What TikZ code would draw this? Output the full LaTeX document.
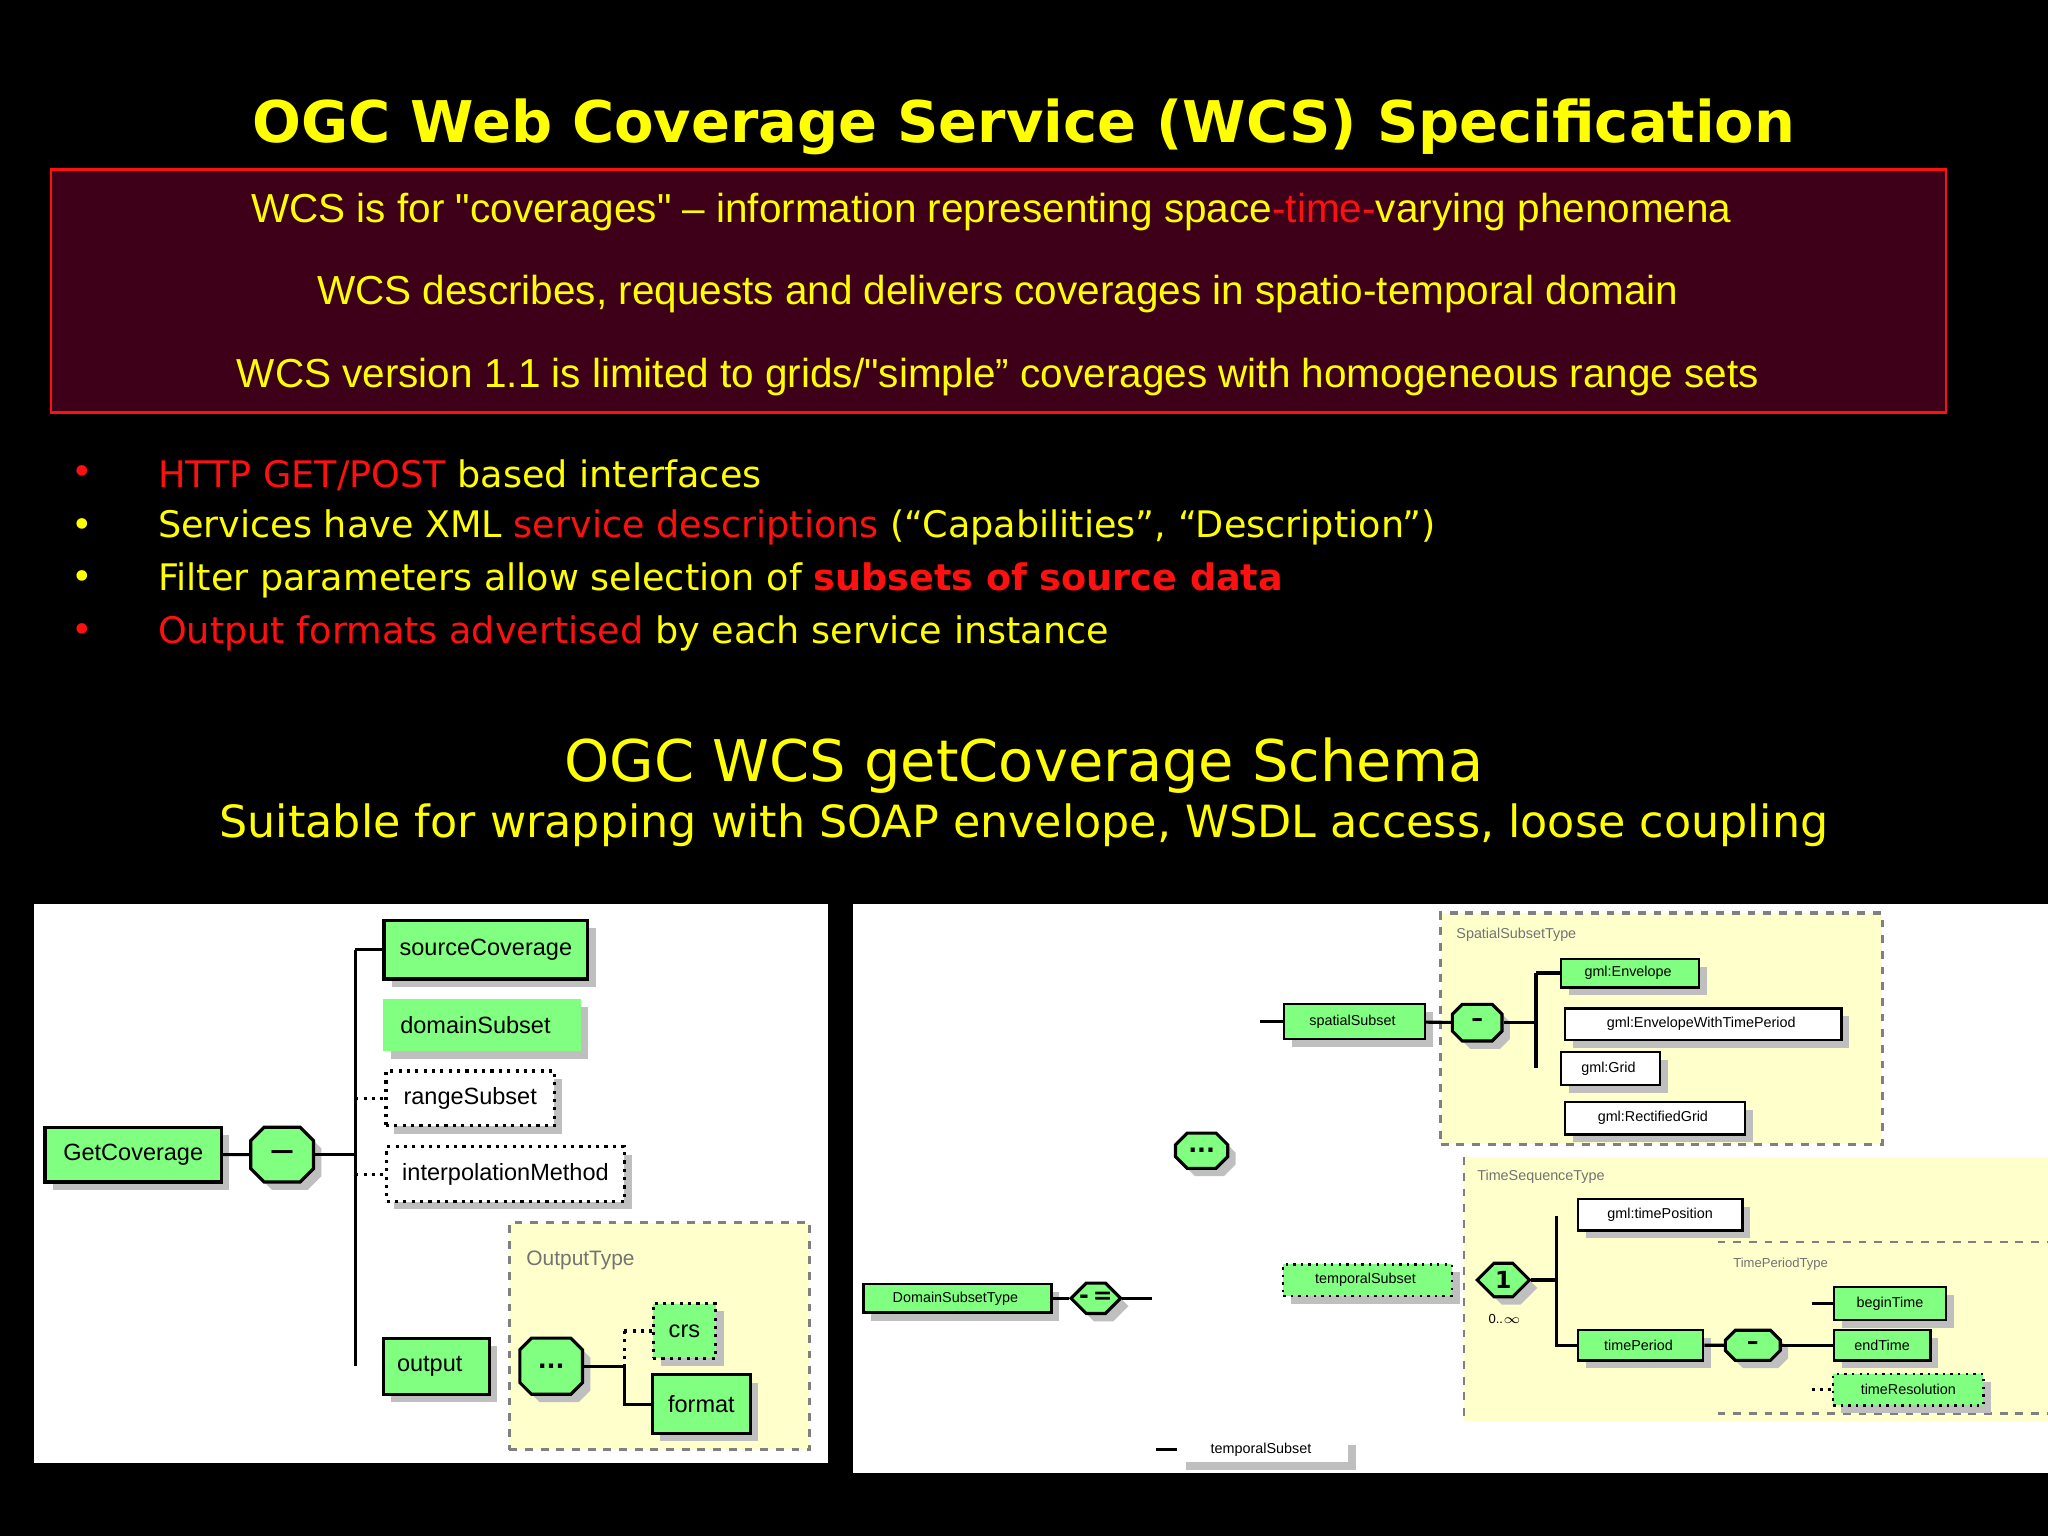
\documentclass[tikz,border=0pt]{standalone}
\usepackage{fontspec}
\setmainfont{DejaVu Sans}
\newfontfamily\arialf{Liberation Sans}
\usetikzlibrary{shapes.misc,shadows}
\definecolor{ye}{HTML}{FFFF00}
\definecolor{rd}{HTML}{FF1010}
\definecolor{mar}{HTML}{3D0018}
\definecolor{gn}{HTML}{80FF80}
\definecolor{py}{HTML}{FFFFCC}
\tikzset{
 wh/.style 2 args={minimum width=#1*0.5pt,minimum height=#2*0.5pt},
 sh/.style={drop shadow={shadow xshift=3pt,shadow yshift=-3pt,fill=black!25,opacity=1}},
 gbox/.style={sh,fill=gn,draw=black,line width=1.2pt,inner sep=1pt,font=\arialf\fontsize{9}{10}\selectfont},
 wbox/.style={sh,fill=white,draw=black,line width=1.2pt,inner sep=1pt,font=\arialf\fontsize{9}{10}\selectfont},
 sgbox/.style={gbox,font=\arialf\fontsize{5.5}{6}\selectfont,line width=0.9pt},
 swbox/.style={wbox,font=\arialf\fontsize{5.5}{6}\selectfont,line width=0.9pt},
 oct/.style={sh,chamfered rectangle,fill=gn,draw=black,line width=1.2pt,inner sep=0pt,font=\bfseries\small},
 conn/.style={line width=1.2pt},
 dconn/.style={line width=1.2pt,dotted},
 ybox/.style={fill=py,draw=black!50,dashed,line width=1.2pt},
 tlab/.style={text=black!55,anchor=west,font=\arialf\fontsize{8}{9}\selectfont},
 bul/.style={anchor=west,text=ye,font=\fontsize{14}{16}\selectfont},
}
\begin{document}
\begin{tikzpicture}[x=0.5pt,y=-0.5pt]
\fill[black] (0,0) rectangle (1568,1176);
\useasboundingbox (0,0) rectangle (1568,1176);
\node[text=ye,font=\bfseries\fontsize{22}{26}\selectfont] (title) at (784,97) {OGC Web Coverage Service (WCS) Specification};
\node[fill=mar,draw=rd,line width=1pt,wh={1451}{186}] (box) at (764.5,223) {};
\begin{scope}[every node/.style={text=ye,font=\arialf\fontsize{15.5}{18}\selectfont}]
\node (l1) at (759,162) {WCS is for "coverages" – information representing space\textcolor{rd}{-time-}varying phenomena};
\node (l2) at (764,225) {WCS describes, requests and delivers coverages in spatio-temporal domain};
\node (l3) at (764,289) {WCS version 1.1 is limited to grids/"simple” coverages with homogeneous range sets};
\end{scope}
\foreach \y/\c in {364/rd,404/ye,444/ye,485/rd}{\node[text=\c,font=\fontsize{14}{16}\selectfont] at (63,\y) {•};}
\node[bul] (b1) at (114,364) {\textcolor{rd}{HTTP GET/POST} based interfaces};
\node[bul] (b2) at (114,404) {Services have XML \textcolor{rd}{service descriptions} (“Capabilities”, “Description”)};
\node[bul] (b3) at (114,444) {Filter parameters allow selection of \textcolor{rd}{\bfseries subsets of source data}};
\node[bul] (b4) at (114,485) {\textcolor{rd}{Output formats advertised} by each service instance};
\node[text=ye,font=\fontsize{22}{26}\selectfont] (h2) at (784,586) {OGC WCS getCoverage Schema};
\node[text=ye,font=\fontsize{17}{20}\selectfont] (h3) at (784,632) {Suitable for wrapping with SOAP envelope, WSDL access, loose coupling};
% left panel
\fill[white] (26,692) rectangle (634,1120);
\node[ybox,wh={230}{174}] (ot) at (505,1023) {};
\node[tlab] (otl) at (396,965) {OutputType};
\node[gbox,wh={135}{42}] (gc) at (102,884) {GetCoverage};
\node[oct,wh={48}{42}] (o1) at (216,884) {---};
\node[gbox,wh={156}{45}] (sc) at (372,727) {sourceCoverage};
\node[gbox,draw=none,wh={151}{40}] (ds) at (369,785) {domainSubset\ \ \ };
\node[wbox,dotted,wh={129}{42}] (rs) at (360,841) {rangeSubset};
\node[wbox,dotted,wh={182}{42}] (im) at (387,899) {interpolationMethod};
\node[gbox,wh={81}{43}] (op) at (334,1046) {output\ \ \ };
\node[oct,wh={48}{43}] (o2) at (422,1046) {...};
\node[gbox,dotted,wh={48}{42}] (crs) at (524,1019) {crs};
\node[gbox,wh={75}{45}] (fmt) at (537,1075) {format};
\draw[conn] (gc) -- (o1);
\draw[conn] (o1.east) -- (272,884);
\draw[conn] (272,727) -- (272,1046);
\draw[conn] (272,727) -- (sc.west);
\draw[dconn] (272,841) -- (rs.west);
\draw[dconn] (272,899) -- (im.west);
\draw[conn] (o2.east) -- (478,1046);
\draw[dconn] (478,1019) -- (478,1046);
\draw[conn] (478,1046) -- (478,1075) -- (fmt.west);
\draw[dconn] (478,1019) -- (crs.west);
% right panel
\fill[white] (653,692) rectangle (1568,1128);
\node[ybox,wh={338}{177}] (sst) at (1272,787.5) {};
\node[tlab,font=\arialf\fontsize{5.5}{6}\selectfont] (sstl) at (1108,716) {SpatialSubsetType};
\fill[py] (1121,886) rectangle (1568,1088);
\draw[black!50,dashed,line width=1pt] (1121,886) -- (1121,1088);
\node[tlab,font=\arialf\fontsize{5.5}{6}\selectfont] (tstl) at (1124,901) {TimeSequenceType};
\draw[black!50,dashed,line width=1pt] (1315,951) -- (1568,951) (1315,1082) -- (1568,1082);
\node[tlab,font=\arialf\fontsize{5}{6}\selectfont] (tptl) at (1320,968) {TimePeriodType};
\node[sgbox,wh={108}{27}] (ss) at (1037,782) {spatialSubset\ \ };
\node[oct,wh={38}{28}] (o3) at (1131,783) {--};
\node[sgbox,wh={106}{22}] (env) at (1248,745) {gml:Envelope\ \ };
\node[swbox,wh={212}{24}] (envt) at (1304,784) {gml:EnvelopeWithTimePeriod\ \ };
\node[swbox,wh={76}{25}] (grid) at (1233,818) {gml:Grid\ \ };
\node[swbox,wh={138}{25}] (rgrid) at (1267,856) {gml:RectifiedGrid\ \ };
\draw[conn] (965,782) -- (ss.west);
\draw[conn] (ss) -- (o3);
\draw[conn] (o3.east) -- (1176,783);
\draw[conn] (1176,745) -- (1176,818);
\draw[conn] (1176,745) -- (env.west);
\node[oct,wh={40}{27}] (o4) at (920,881) {...};
\node[sgbox,wh={144}{22}] (dst) at (733,994) {DomainSubsetType\ \ };
\node[oct,wh={38}{22}] (o5) at (839,994) {-\,=};
\draw[conn] (dst) -- (o5);
\draw[conn] (o5.east) -- (882,994);
\node[sgbox,dotted,wh={129}{24}] (ts) at (1047,980) {temporalSubset\ \ };
\node[oct,wh={40}{24}] (o6) at (1151,980) {1};
\node[font=\arialf\fontsize{5}{6}\selectfont] (inf) at (1152,1010) {0..$\infty$};
\node[swbox,wh={126}{24}] (tpos) at (1271,930) {gml:timePosition};
\node[sgbox,wh={96}{23}] (tp) at (1256,1030) {timePeriod\ \ };
\node[oct,wh={42}{23}] (o7) at (1342,1030) {--};
\node[sgbox,wh={86}{25}] (bt) at (1447,998) {beginTime};
\node[sgbox,wh={74}{23}] (et) at (1441,1030) {endTime};
\node[sgbox,dotted,wh={115}{24}] (tr) at (1461,1064) {timeResolution};
\draw[conn] (o6.east) -- (1192,980);
\draw[conn] (1192,931) -- (1192,1030) -- (tp.west);
\draw[conn] (tp) -- (o7);
\draw[conn] (o7.east) -- (1387,1030);
\draw[conn] (1387,998) -- (bt.west);
\draw[conn] (1387,1030) -- (et.west);
\draw[dconn] (1387,1064) -- (tr.west);
\node[swbox,draw=none,wh={130}{19}] (ts2) at (967,1110) {temporalSubset\ \ };
\draw[conn] (885,1110) -- (ts2.west);
\end{tikzpicture}
\end{document}
